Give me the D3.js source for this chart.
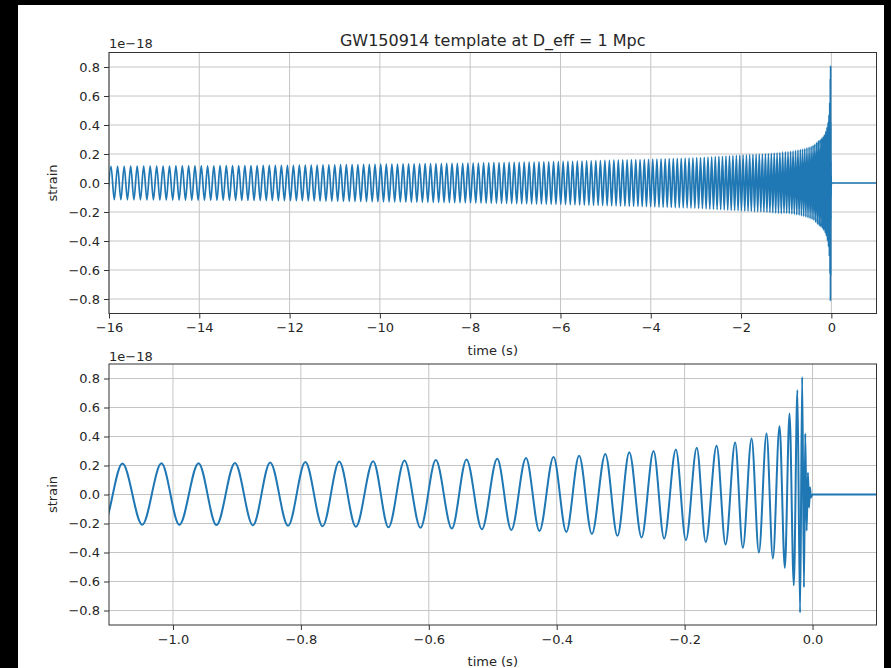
<!DOCTYPE html>
<html>
<head>
<meta charset="utf-8">
<title>GW150914 template</title>
<script src="https://cdn.jsdelivr.net/npm/d3@7"></script>
<style>
  body { margin: 0; background: #000; }
  text { font-family: "DejaVu Sans", sans-serif; fill: #262626; }
</style>
</head>
<body>
<div id="container"></div>
<script>
// Chart texts
const titleText = "GW150914 template at D_eff = 1 Mpc";
const xLabel = "time (s)";
const yLabel = "strain";
const offsetText = "1e\u221218";

// Tick values
const yTicks = [-0.8, -0.6, -0.4, -0.2, 0, 0.2, 0.4, 0.6, 0.8];
const topXTicks = [-16, -14, -12, -10, -8, -6, -4, -2, 0];
const lowXTicks = [-1.0, -0.8, -0.6, -0.4, -0.2, 0.0];

// Early inspiral: times (s) of the extrema, alternating trough / peak, starting with a trough
const earlyExtremaT = [
  -16.029, -15.956, -15.883, -15.810, -15.737, -15.664, -15.592, -15.520, -15.448, -15.376,
  -15.304, -15.232, -15.160, -15.088, -15.016, -14.944, -14.873, -14.802, -14.731, -14.660,
  -14.589, -14.518, -14.447, -14.376, -14.306, -14.236, -14.166, -14.096, -14.026, -13.956,
  -13.886, -13.816, -13.747, -13.678, -13.609, -13.540, -13.471, -13.402, -13.333, -13.264,
  -13.195, -13.127, -13.059, -12.991, -12.923, -12.855, -12.787, -12.719, -12.651, -12.584,
  -12.517, -12.450, -12.383, -12.316, -12.249, -12.182, -12.115, -12.048, -11.982, -11.916,
  -11.850, -11.784, -11.718, -11.652, -11.586, -11.520, -11.455, -11.390, -11.325, -11.260,
  -11.195, -11.130, -11.065, -11.000, -10.935, -10.871, -10.807, -10.743, -10.679, -10.615,
  -10.551, -10.487, -10.423, -10.360, -10.297, -10.234, -10.171, -10.108, -10.045, -9.982,
  -9.920, -9.858, -9.796, -9.734, -9.672, -9.610, -9.548, -9.486, -9.425, -9.364,
  -9.303, -9.242, -9.181, -9.120, -9.059, -8.998, -8.938, -8.878, -8.818, -8.758,
  -8.698, -8.638, -8.579, -8.520, -8.461, -8.402, -8.343, -8.284, -8.225, -8.166,
  -8.108, -8.050, -7.992, -7.934, -7.876, -7.818, -7.760, -7.703, -7.646, -7.589,
  -7.532, -7.475, -7.418, -7.361, -7.305, -7.249, -7.193, -7.137, -7.081, -7.025,
  -6.969, -6.914, -6.859, -6.804, -6.749, -6.694, -6.639, -6.584, -6.530, -6.476,
  -6.422, -6.368, -6.314, -6.260, -6.206, -6.153, -6.100, -6.047, -5.994, -5.941,
  -5.888, -5.835, -5.783, -5.731, -5.679, -5.627, -5.575, -5.523, -5.472, -5.421,
  -5.370, -5.319, -5.268, -5.217, -5.166, -5.116, -5.066, -5.016, -4.966, -4.916,
  -4.866, -4.817, -4.768, -4.719, -4.670, -4.621, -4.572, -4.524, -4.476, -4.428,
  -4.380, -4.332, -4.284, -4.237, -4.190, -4.143, -4.096, -4.049, -4.002, -3.956,
  -3.910, -3.864, -3.818, -3.772, -3.726, -3.681, -3.636, -3.591, -3.546, -3.501,
  -3.457, -3.413, -3.369, -3.325, -3.281, -3.238, -3.195, -3.152, -3.109, -3.066,
  -3.024, -2.982, -2.940, -2.898, -2.856, -2.815, -2.774, -2.733, -2.692, -2.651,
  -2.611, -2.571, -2.531, -2.491, -2.451, -2.412, -2.373, -2.334, -2.295, -2.256,
  -2.218, -2.180, -2.142, -2.104, -2.066, -2.029, -1.992, -1.955, -1.918, -1.881,
  -1.845, -1.809, -1.773, -1.737, -1.701, -1.666, -1.631, -1.596, -1.562, -1.528,
  -1.494, -1.460, -1.427, -1.394, -1.361, -1.329, -1.297, -1.265, -1.233, -1.202,
  -1.171, -1.140, -1.109
];

// Early inspiral amplitude envelope (1e-18)
const envT = [-16, -12, -8, -6, -4, -3, -2, -1.5, -1.1];
const envA = [0.115, 0.122, 0.137, 0.148, 0.164, 0.174, 0.192, 0.200, 0.211];

// Last second: extrema times (s) and strain (1e-18), then the flat tail
const lateT = [
  -1.079, -1.048, -1.018, -0.990, -0.960, -0.932, -0.903, -0.875, -0.848, -0.820,
  -0.793, -0.766, -0.740, -0.714, -0.687, -0.663, -0.638, -0.613, -0.589, -0.564,
  -0.541, -0.517, -0.493, -0.471, -0.448, -0.427, -0.405, -0.385, -0.365, -0.345,
  -0.324, -0.305, -0.2865, -0.2673, -0.2486, -0.232, -0.2137, -0.198, -0.181, -0.167,
  -0.150, -0.136, -0.121, -0.109, -0.0953, -0.0839, -0.0719, -0.062, -0.0516, -0.0433,
  -0.036, -0.0293, -0.0237, -0.0195, -0.0162, -0.0134, -0.0114, -0.0092, -0.0072, -0.0055,
  -0.004, -0.0025, 0.0, 1.0
];
const lateH = [
  0.214, -0.208, 0.215, -0.209, 0.216, -0.211, 0.218, -0.213, 0.221, -0.216,
  0.224, -0.219, 0.227, -0.222, 0.230, -0.226, 0.234, -0.230, 0.238, -0.235,
  0.242, -0.240, 0.247, -0.245, 0.252, -0.251, 0.259, -0.258, 0.268, -0.272,
  0.280, -0.285, 0.292, -0.296, 0.300, -0.303, 0.310, -0.315, 0.322, -0.327,
  0.336, -0.345, 0.358, -0.368, 0.386, -0.400, 0.420, -0.441, 0.471, -0.506,
  0.558, -0.626, 0.720, -0.815, 0.810, -0.640, 0.420, -0.250, 0.150, -0.090,
  0.050, -0.020, 0.0, 0.0
];

// Figure geometry
const width = 891;
const height = 668;
const marginLeft = 109;
const marginRight = 876.5;
const lineColor = "#1f77b4";

const envelope = d3.scaleLinear().domain(envT).range(envA);

// Build the waveform from the read extrema
const wave = [];
earlyExtremaT.forEach((t, i) => wave.push([t, (i % 2 === 0 ? -1 : 1) * envelope(t)]));
lateT.forEach((t, i) => wave.push([t, lateH[i]]));

const panels = [
  { id: "top", top: 52.5, bottom: 313.5, xDomain: [-16, 1], ticks: topXTicks,
    fmt: d3.format("d"), stroke: 1.7, offsetY: 48, labelY: 355 },
  { id: "low", top: 364, bottom: 625, xDomain: [-1.1, 0.1], ticks: lowXTicks,
    fmt: d3.format(".1f"), stroke: 2, offsetY: 360.5, labelY: 665.5 }
];

const svg = d3.create("svg")
    .attr("width", width)
    .attr("height", height);

// White figure area inside the black frame
svg.append("rect")
    .attr("x", 18).attr("y", 5)
    .attr("width", 866).attr("height", height - 5)
    .attr("fill", "#fff");

// Title
svg.append("text")
    .attr("x", (marginLeft + marginRight) / 2)
    .attr("y", 45.8)
    .attr("text-anchor", "middle")
    .attr("font-size", 16)
    .text(titleText);

panels.forEach(p => {
  const x = d3.scaleLinear().domain(p.xDomain).range([marginLeft, marginRight]);
  const y = d3.scaleLinear().domain([-0.9, 0.9]).range([p.bottom, p.top]);
  const g = svg.append("g");

  // Grid lines
  g.append("g")
    .selectAll("line")
    .data(p.ticks)
    .join("line")
      .attr("x1", d => x(d)).attr("x2", d => x(d))
      .attr("y1", p.top).attr("y2", p.bottom)
      .attr("stroke", "#c4c4c4").attr("stroke-width", 1);
  g.append("g")
    .selectAll("line")
    .data(yTicks)
    .join("line")
      .attr("x1", marginLeft).attr("x2", marginRight)
      .attr("y1", d => y(d)).attr("y2", d => y(d))
      .attr("stroke", "#c4c4c4").attr("stroke-width", 1);

  // Clip to the axes
  svg.append("clipPath")
      .attr("id", "clip-" + p.id)
    .append("rect")
      .attr("x", marginLeft).attr("y", p.top)
      .attr("width", marginRight - marginLeft).attr("height", p.bottom - p.top);

  const line = d3.line()
      .x(d => x(d[0]))
      .y(d => y(d[1]))
      .curve(d3.curveMonotoneX);

  g.append("path")
      .datum(wave)
      .attr("clip-path", `url(#clip-${p.id})`)
      .attr("fill", "none")
      .attr("stroke", lineColor)
      .attr("stroke-width", p.stroke)
      .attr("stroke-linejoin", "round")
      .attr("d", line);

  // Spines
  g.append("rect")
      .attr("x", marginLeft).attr("y", p.top)
      .attr("width", marginRight - marginLeft).attr("height", p.bottom - p.top)
      .attr("fill", "none").attr("stroke", "#333").attr("stroke-width", 1);

  // Axes
  const xAxis = g.append("g")
      .attr("transform", `translate(0,${p.bottom})`)
      .call(d3.axisBottom(x).tickValues(p.ticks).tickFormat(p.fmt).tickSize(5).tickPadding(4.5));
  const yAxis = g.append("g")
      .attr("transform", `translate(${marginLeft},0)`)
      .call(d3.axisLeft(y).tickValues(yTicks).tickFormat(d3.format(".1f")).tickSize(5).tickPadding(4));
  [xAxis, yAxis].forEach(a => {
    a.select(".domain").remove();
    a.selectAll(".tick line").attr("stroke", "#333");
    a.selectAll(".tick text")
        .attr("font-family", "DejaVu Sans")
        .attr("font-size", 13)
        .attr("fill", "#262626");
  });

  // Offset text
  g.append("text")
      .attr("x", marginLeft)
      .attr("y", p.offsetY)
      .attr("font-size", 13)
      .text(offsetText);

  // Axis labels
  g.append("text")
      .attr("x", (marginLeft + marginRight) / 2)
      .attr("y", p.labelY)
      .attr("text-anchor", "middle")
      .attr("font-size", 13)
      .text(xLabel);
  g.append("text")
      .attr("transform", `translate(56.5,${(p.top + p.bottom) / 2}) rotate(-90)`)
      .attr("text-anchor", "middle")
      .attr("font-size", 13)
      .text(yLabel);
});

document.getElementById("container").append(svg.node());
</script>
</body>
</html>
